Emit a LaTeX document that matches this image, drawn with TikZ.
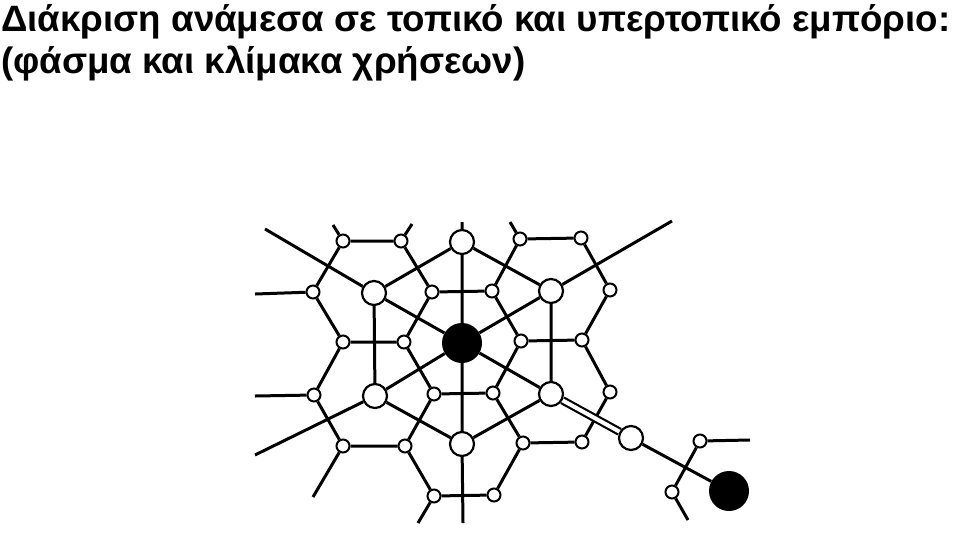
\documentclass[tikz,border=0pt]{standalone}
\usepackage{fontspec}
\setmainfont{Liberation Sans}
\usetikzlibrary{backgrounds}
\begin{document}
\begin{tikzpicture}[x=1pt,y=-1pt,
  sm/.style={circle,draw=black,fill=white,line width=2pt,minimum size=13pt,inner sep=0pt},
  md/.style={circle,draw=black,fill=white,line width=2.2pt,minimum size=24pt,inner sep=0pt},
  bg/.style={circle,fill=black,minimum size=40pt,inner sep=0pt},
  edge/.style={line width=3pt,black},
  road/.style={line width=2.2pt,double=white,double distance=4pt,black},
  title/.style={anchor=north west,font=\fontsize{36.7}{42}\selectfont\bfseries,align=left,inner sep=0pt}]
\useasboundingbox (0,0) rectangle (960,542);
\node[title] (t) at (1,4) {Διάκριση ανάμεσα σε τοπικό και υπερτοπικό εμπόριο:\\(φάσμα και κλίμακα χρήσεων)};
% small nodes
\node[sm] (a1) at (343,241) {}; \node[sm] (a2) at (401,241) {};
\node[sm] (a3) at (520,239) {}; \node[sm] (a4) at (581,238) {};
\node[sm] (b1) at (313,292) {}; \node[sm] (b2) at (432,292) {};
\node[sm] (b3) at (492,291) {}; \node[sm] (b4) at (610,290) {};
\node[sm] (c1) at (343,342) {}; \node[sm] (c2) at (404,342) {};
\node[sm] (c3) at (521,341) {}; \node[sm] (c4) at (582,340) {};
\node[sm] (d1) at (314,395) {}; \node[sm] (d2) at (434,394) {};
\node[sm] (d3) at (493,393) {}; \node[sm] (d4) at (610,392) {};
\node[sm] (e1) at (343,446) {}; \node[sm] (e2) at (405,446) {};
\node[sm] (e3) at (523,443) {}; \node[sm] (e4) at (582,442) {};
\node[sm] (f1) at (434,496) {}; \node[sm] (f2) at (494,495) {};
\node[sm] (g1) at (700,441) {}; \node[sm] (g2) at (672,492) {};
% medium nodes
\node[md] (mT) at (462,242) {}; \node[md] (mUL) at (374,293) {};
\node[md] (mUR) at (551,291) {}; \node[md] (mLL) at (375,396) {};
\node[md] (mLR) at (551,394) {}; \node[md] (mB) at (462,444) {};
\node[md] (mX) at (631,438) {};
% big nodes
\node[bg] (C) at (462,343) {}; \node[bg] (D) at (729,491) {};
% free ends
\coordinate (s1) at (333,225); \coordinate (s2) at (412,224);
\coordinate (s3) at (510,222); \coordinate (s4) at (255,294);
\coordinate (s5) at (255,396); \coordinate (s6) at (313,497);
\coordinate (s7) at (418,523); \coordinate (s8) at (750,440);
\coordinate (s9) at (688,520);
\coordinate (o1) at (265,229); \coordinate (o2) at (672,221);
\coordinate (o3) at (255,455); \coordinate (o4) at (462,222);
\coordinate (o5) at (463,523);
\begin{pgfonlayer}{background}
\draw[edge] (a1)--(a2) (a2)--(b2) (b2)--(c2) (c2)--(c1) (c1)--(b1) (b1)--(a1);
\draw[edge] (a3)--(a4) (a4)--(b4) (b4)--(c4) (c4)--(c3) (c3)--(b3) (b3)--(a3);
\draw[edge] (b2)--(b3) (c3)--(d3) (d3)--(d2) (d2)--(c2);
\draw[edge] (c1)--(d1) (d1)--(e1) (e1)--(e2) (e2)--(d2);
\draw[edge] (c4)--(d4) (d4)--(e4) (e4)--(e3) (e3)--(d3);
\draw[edge] (e3)--(f2) (f2)--(f1) (f1)--(e2);
\draw[edge] (g1)--(g2);
\draw[edge] (a1)--(s1) (a2)--(s2) (a3)--(s3) (b1)--(s4) (d1)--(s5)
  (e1)--(s6) (f1)--(s7) (g1)--(s8) (g2)--(s9);
\draw[edge] (mT)--(mUL) (mT)--(mUR) (mUR)--(mLR) (mLR)--(mB) (mB)--(mLL) (mLL)--(mUL);
\draw[edge] (C)--(mT) (C)--(mUL) (C)--(mUR) (C)--(mLL) (C)--(mLR) (C)--(mB);
\draw[edge] (mT)--(o4) (mB)--(o5) (mUL)--(o1) (mUR)--(o2) (mLL)--(o3);
\draw[edge] (mX)--(D);
\draw[road] (mLR)--(mX);
\end{pgfonlayer}
\end{tikzpicture}
\end{document}
